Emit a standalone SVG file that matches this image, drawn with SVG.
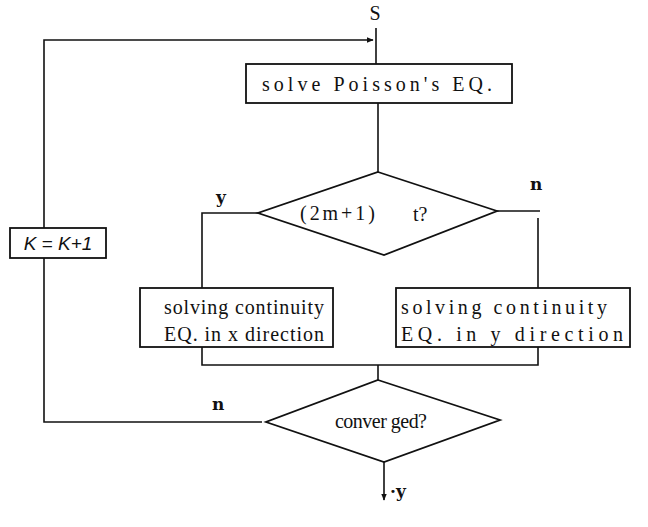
<svg xmlns="http://www.w3.org/2000/svg" width="648" height="527" viewBox="0 0 648 527">
<style>
.ln{fill:none;stroke:#111;stroke-width:1.6}
.bx{fill:#fff;stroke:#111;stroke-width:1.8}
.t{font-family:"Liberation Serif","DejaVu Serif",serif;font-size:20px;fill:#111}
.lb{font-family:"DejaVu Serif","Liberation Serif",serif;font-size:17px;font-weight:bold;fill:#111}
.k{font-family:"Liberation Sans","DejaVu Sans",sans-serif;font-size:19px;font-style:italic;fill:#111}
</style>
<defs>
<marker id="ah" viewBox="0 0 10 10" refX="9" refY="5" markerWidth="7" markerHeight="7" orient="auto-start-reverse" markerUnits="userSpaceOnUse">
<path d="M0,1 L10,5 L0,9 z" fill="#111"/>
</marker>
</defs>
<rect width="648" height="527" fill="#fff"/>
<g id="connectors">
<line class="ln" x1="376" y1="28" x2="376" y2="65"/>
<polyline class="ln" points="44,228 44,40 373,40" marker-end="url(#ah)"/>
<line class="ln" x1="378" y1="103" x2="378" y2="172"/>
<polyline class="ln" points="258,213 202,213 202,288"/>
<polyline class="ln" points="497,211 540,211"/>
<line class="ln" x1="538" y1="218" x2="538" y2="288"/>
<polyline class="ln" points="202,347 202,365 538,365 538,347"/>
<line class="ln" x1="378" y1="365" x2="378" y2="380"/>
<polyline class="ln" points="262,422 44,422 44,258"/>
<line class="ln" x1="384" y1="462" x2="384" y2="500" marker-end="url(#ah)"/>
</g>
<g id="start"><text class="t" x="375" y="20" font-size="13" text-anchor="middle">S</text></g>
<g id="poisson">
<rect class="bx" x="246" y="64" width="266" height="39"/>
<text class="t" x="262" y="91" textLength="230" lengthAdjust="spacing">solve Poisson's EQ.</text>
</g>
<g id="decision1">
<polygon class="bx" points="378,172 497,211 384,255 258,213"/>
<text class="t" x="300" y="220" textLength="75" lengthAdjust="spacing">(2m+1)</text>
<text class="t" x="413" y="221">t?</text>
<text class="lb" x="216" y="203">y</text>
<text class="lb" x="530" y="190">n</text>
</g>
<g id="counter">
<rect class="bx" x="10" y="228" width="96" height="30"/>
<text class="k" x="58" y="250" text-anchor="middle">K = K+1</text>
</g>
<g id="contx">
<rect class="bx" x="140" y="288" width="193" height="59"/>
<text class="t" x="164" y="314" textLength="160" lengthAdjust="spacing">solving continuity</text>
<text class="t" x="164" y="341" textLength="160" lengthAdjust="spacing">EQ.  in x direction</text>
</g>
<g id="conty">
<rect class="bx" x="396" y="288" width="234" height="59"/>
<text class="t" x="401" y="314" textLength="206" lengthAdjust="spacing">solving continuity</text>
<text class="t" x="401" y="341" textLength="222" lengthAdjust="spacing">EQ.  in y direction</text>
</g>
<g id="decision2">
<polygon class="bx" points="378,380 500,420 384,462 266,422"/>
<text class="t" x="381" y="428" text-anchor="middle" textLength="92" lengthAdjust="spacing">conver ged?</text>
<text class="lb" x="212" y="410">n</text>
<text class="lb" x="390" y="497">·y</text>
</g>
</svg>
